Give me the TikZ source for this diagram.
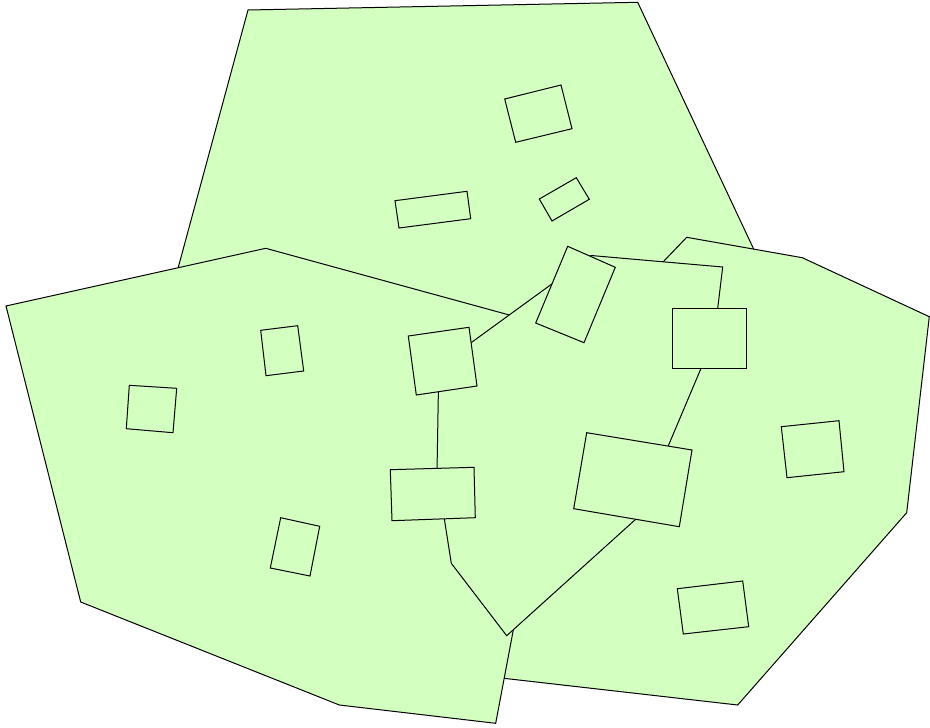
\documentclass[tikz,border=0pt]{standalone}
\definecolor{regionfill}{RGB}{211,255,192}
\tikzset{
  region/.style={fill=regionfill, draw=black, line width=1pt, line join=miter},
  box/.style={fill=regionfill, draw=black, line width=1pt, line join=miter}
}
\begin{document}
\begin{tikzpicture}[x=1pt,y=-1pt]
\useasboundingbox (0,0) rectangle (930,728);
% top region
\draw[region] (248,10) -- (637.7,2.3) -- (834,420) -- (136.9,420) -- cycle;
% right region
\draw[region] (686.7,237.3) -- (802.3,257.7) -- (929.3,316.7) -- (906.7,512.7) -- (737.7,705) -- (287.5,653.6) -- cycle;
% left region
\draw[region] (6,306) -- (265.7,248.3) -- (569.6,331.5) -- (495.7,723.3) -- (339.3,705) -- (80.7,602) -- cycle;
% middle region
\draw[region] (591,255.5) -- (722.7,267) -- (714.2,337.1) -- (638.3,516.9) -- (506.7,635.7) -- (451.3,563.3) -- (437,472.3) -- (438.8,366.2) -- cycle;
% boxes
\draw[box] (504.7,99) -- (561,85) -- (572,128.7) -- (515.7,142.3) -- cycle;
\draw[box] (539.3,199) -- (576.3,177.7) -- (589.3,199.3) -- (552,221) -- cycle;
\draw[box] (395,200.7) -- (467,191.3) -- (470.7,218.7) -- (399,228) -- cycle;
\draw[box] (260.7,330.3) -- (297.7,325.7) -- (303.7,371) -- (266,375.7) -- cycle;
\draw[box] (129.3,385.3) -- (176.7,388.3) -- (173,432.7) -- (126.3,428.7) -- cycle;
\draw[box] (408.3,336) -- (469,327.3) -- (477,386) -- (416.3,395) -- cycle;
\draw[box] (567.7,246.3) -- (615.3,267.3) -- (584,342.7) -- (535.7,323) -- cycle;
\draw[box] (672.3,308.3) -- (746.7,308.3) -- (746.7,368.3) -- (672.3,368.3) -- cycle;
\draw[box] (390.3,469.7) -- (474,467.3) -- (475.3,517.7) -- (392,520.7) -- cycle;
\draw[box] (586.7,432.7) -- (692,450) -- (679.3,526.7) -- (573.7,508.7) -- cycle;
\draw[box] (781.3,426.7) -- (839,420.7) -- (844,471.7) -- (787,477.7) -- cycle;
\draw[box] (280.7,517.7) -- (319.7,526.3) -- (310,576) -- (270.3,568) -- cycle;
\draw[box] (677.3,588.7) -- (742.7,581) -- (748.7,626.7) -- (683.3,634) -- cycle;
\end{tikzpicture}
\end{document}
